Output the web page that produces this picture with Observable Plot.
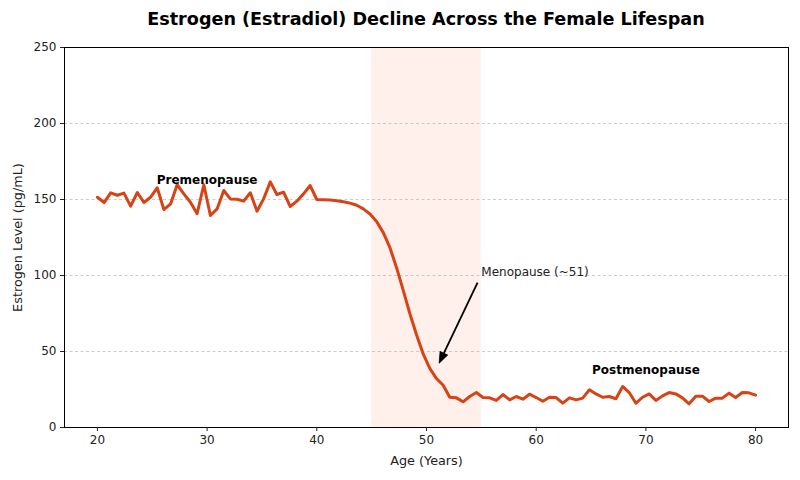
<!DOCTYPE html>
<html>
<head>
<meta charset="utf-8">
<script src="https://cdn.jsdelivr.net/npm/d3@7"></script>
<script src="https://cdn.jsdelivr.net/npm/@observablehq/plot@0.6"></script>
<style>
  html, body { margin: 0; padding: 0; background: #ffffff; }
  #wrap { width: 800px; height: 480px; background: #ffffff; font-family: "DejaVu Sans", sans-serif; }
  #title { height: 36px; line-height: 38px; font-size: 17.6px; font-weight: bold; text-align: center; padding-left: 52px; box-sizing: border-box; color: #000; white-space: nowrap; overflow: visible; }
  #chart svg { display: block; }
</style>
</head>
<body>
<div id="wrap">
  <div id="title">Estrogen (Estradiol) Decline Across the Female Lifespan</div>
  <div id="chart"></div>
</div>
<script>
const ages = [20.00, 20.61, 21.21, 21.82, 22.42, 23.03, 23.64, 24.24, 24.85, 25.45,
  26.06, 26.67, 27.27, 27.88, 28.48, 29.09, 29.70, 30.30, 30.91, 31.52,
  32.12, 32.73, 33.33, 33.94, 34.55, 35.15, 35.76, 36.36, 36.97, 37.58,
  38.18, 38.79, 39.39, 40.00, 40.61, 41.21, 41.82, 42.42, 43.03, 43.64,
  44.24, 44.85, 45.45, 46.06, 46.67, 47.27, 47.88, 48.48, 49.09, 49.70,
  50.30, 50.91, 51.52, 52.12, 52.73, 53.33, 53.94, 54.55, 55.15, 55.76,
  56.36, 56.97, 57.58, 58.18, 58.79, 59.39, 60.00, 60.61, 61.21, 61.82,
  62.42, 63.03, 63.64, 64.24, 64.85, 65.45, 66.06, 66.67, 67.27, 67.88,
  68.48, 69.09, 69.70, 70.30, 70.91, 71.52, 72.12, 72.73, 73.33, 73.94,
  74.55, 75.15, 75.76, 76.36, 76.97, 77.58, 78.18, 78.79, 79.39, 80.00];

const estrogen = [151.5, 148.0, 154.4, 152.8, 154.2, 145.6, 154.6, 148.0, 151.5, 157.7,
  143.4, 147.1, 159.7, 153.7, 148.2, 140.6, 159.7, 139.5, 143.8, 155.9,
  150.4, 150.2, 148.9, 154.4, 142.3, 150.4, 161.6, 153.3, 154.8, 145.4,
  148.9, 153.7, 159.2, 150.0, 149.8, 149.6, 149.2, 148.5, 147.6, 146.2,
  143.8, 140.5, 135.5, 128.2, 118.3, 105.2, 90.2, 75.0, 61.0, 48.4,
  38.9, 32.2, 27.8, 19.9, 19.5, 16.9, 20.4, 23.0, 19.7, 19.5,
  17.8, 21.7, 18.2, 20.4, 18.6, 21.9, 19.7, 17.3, 19.9, 19.7,
  16.0, 19.5, 18.2, 19.3, 24.8, 22.1, 19.9, 20.4, 18.9, 27.0,
  23.0, 16.0, 19.9, 22.1, 17.8, 20.8, 23.0, 22.1, 19.5, 15.6,
  20.6, 20.6, 17.1, 19.3, 19.3, 22.6, 19.7, 23.0, 22.8, 21.3];

const xTicks = [20, 30, 40, 50, 60, 70, 80];
const yTicks = [0, 50, 100, 150, 200, 250];
const menopauseWindow = [{start: 45, end: 55}];
const phaseLabels = [
  {age: 30, level: 160, text: "Premenopause"},
  {age: 70, level: 35, text: "Postmenopause"}
];
const arrowNote = [{fromAge: 54.7, fromLevel: 95, toAge: 51.2, toLevel: 42, text: "Menopause (~51)", textAge: 55, textLevel: 100}];

const data = ages.map((a, i) => ({age: a, level: estrogen[i]}));

// Annotation arrow with a filled head, positioned through Plot's own scales
function annotationArrow(index, scales, values, dimensions, context) {
  const g = d3.create("svg:g");
  for (const d of arrowNote) {
    const x1 = scales.x(d.fromAge), y1 = scales.y(d.fromLevel);
    const x2 = scales.x(d.toAge), y2 = scales.y(d.toLevel);
    const dx = x2 - x1, dy = y2 - y1, len = Math.hypot(dx, dy);
    const ux = dx / len, uy = dy / len;
    const headLen = 11, headHalf = 4.2;
    const bx = x2 - ux * headLen, by = y2 - uy * headLen;
    g.append("line")
      .attr("x1", x1).attr("y1", y1).attr("x2", bx).attr("y2", by)
      .attr("stroke", "#000").attr("stroke-width", 1.8);
    g.append("polygon")
      .attr("points", [[x2, y2], [bx - uy * headHalf, by + ux * headHalf], [bx + uy * headHalf, by - ux * headHalf]].map(p => p.join(",")).join(" "))
      .attr("fill", "#000").attr("stroke", "#000").attr("stroke-width", 0.8);
  }
  return g.node();
}

const chart = Plot.plot({
  width: 800,
  height: 444,
  marginLeft: 64,
  marginRight: 12,
  marginTop: 11,
  marginBottom: 53,
  style: {fontFamily: "DejaVu Sans", fontSize: "12px", background: "#ffffff", color: "#222"},
  x: {domain: [17, 83]},
  y: {domain: [0, 250]},
  marks: [
    Plot.rect(menopauseWindow, {x1: "start", x2: "end", fill: "#ffccbc", fillOpacity: 0.3}),
    Plot.gridY(yTicks.filter(t => t > 0 && t < 250), {stroke: "#b0b0b0", strokeOpacity: 0.8, strokeDasharray: "3,2.5", strokeWidth: 0.8}),
    Plot.line(data, {x: "age", y: "level", stroke: "#d84315", strokeWidth: 3, strokeLinejoin: "round"}),
    annotationArrow,
    Plot.text(arrowNote, {x: "textAge", y: "textLevel", text: "text", textAnchor: "start", lineAnchor: "bottom", fontSize: 12, fill: "#222"}),
    Plot.text(phaseLabels, {x: "age", y: "level", text: "text", textAnchor: "middle", lineAnchor: "bottom", fontSize: 12, fontWeight: "bold", fill: "#000"}),
    Plot.frame({stroke: "#000", strokeWidth: 1}),
    Plot.axisX({ticks: xTicks, tickSize: 4, tickPadding: 4, fontSize: 12, label: null}),
    Plot.axisY({ticks: yTicks, tickSize: 4, tickPadding: 4, fontSize: 12, label: null}),
    Plot.axisX({ticks: [], tickSize: 0, fontSize: 12.8, label: "Age (Years)", labelAnchor: "center", labelArrow: "none", labelOffset: 37}),
    Plot.axisY({ticks: [], tickSize: 0, fontSize: 12.8, label: "Estrogen Level (pg/mL)", labelAnchor: "center", labelArrow: "none", labelOffset: 52})
  ]
});
document.getElementById("chart").appendChild(chart);
</script>
</body>
</html>
